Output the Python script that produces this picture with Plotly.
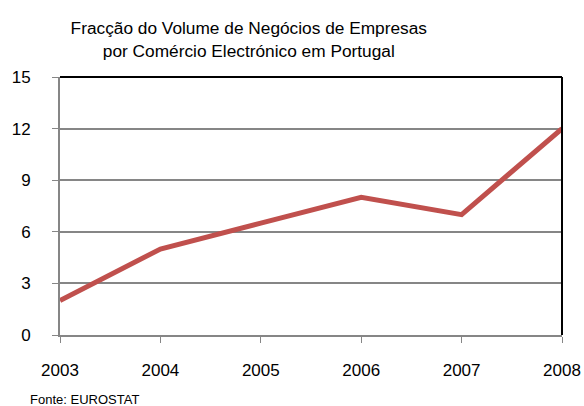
import plotly.graph_objects as go

years = [2003, 2004, 2005, 2006, 2007, 2008]
values = [2, 5, 6.5, 8, 7, 12]
y_ticks = [0, 3, 6, 9, 12, 15]

fig = go.Figure()
fig.add_trace(go.Scatter(x=years, y=values, mode="lines",
                         line=dict(color="#C0504D", width=5), hoverinfo="skip"))

fig.update_layout(
    width=584, height=406,
    margin=dict(l=60, r=22, t=77, b=71, autoexpand=False),
    paper_bgcolor="white", plot_bgcolor="white",
    showlegend=False,
    font=dict(family="Liberation Sans, Arial, sans-serif", color="black"),
    title=dict(text="Fracção do Volume de Negócios de Empresas<br>por Comércio Electrónico em Portugal",
               x=0.426, xanchor="center", y=0.916, yanchor="top",
               font=dict(family="Liberation Sans Narrow, Arial Narrow, Liberation Sans, sans-serif", size=17.3)),
)
fig.update_xaxes(range=[2003, 2008], tickvals=years, ticktext=[str(y) for y in years],
                 showgrid=False, zeroline=False, showline=True, linecolor="#868686", linewidth=2,
                 ticks="outside", ticklen=6, tickcolor="#868686", tickwidth=1,
                 tickfont=dict(size=17), ticklabelstandoff=13, automargin=False)
fig.update_yaxes(range=[0, 15], tickvals=y_ticks,
                 showgrid=True, gridcolor="#868686", gridwidth=1.5, zeroline=False,
                 showline=True, linecolor="#868686", linewidth=2,
                 ticks="outside", ticklen=6, tickcolor="#868686", tickwidth=1,
                 tickfont=dict(size=17), ticklabelstandoff=18, automargin=False)

fig.add_shape(type="line", xref="paper", yref="paper", x0=0, x1=1, y0=1, y1=1,
              line=dict(color="black", width=2))
fig.add_shape(type="line", xref="paper", yref="paper", x0=1, x1=1, y0=0, y1=1,
              line=dict(color="black", width=2))

fig.add_annotation(text="Fonte: EUROSTAT", xref="paper", yref="paper",
                   x=-0.064, y=-0.212, xanchor="left", yanchor="top", showarrow=False,
                   font=dict(family="Liberation Sans Narrow, Arial Narrow, Liberation Sans, sans-serif", size=13))

fig.write_html("out.html", config={"displayModeBar": False},
               post_script="document.body.style.margin='0';")
